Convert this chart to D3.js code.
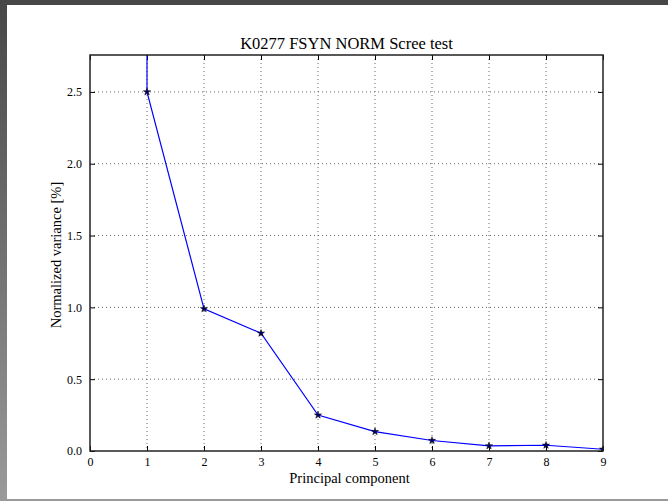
<!DOCTYPE html>
<html>
<head>
<meta charset="utf-8">
<script src="https://cdn.jsdelivr.net/npm/d3@7"></script>
<style>
  html, body { margin: 0; padding: 0; background: #fff; }
  svg { display: block; }
  text { font-family: "Liberation Serif", "DejaVu Serif", serif; fill: #000; }
</style>
</head>
<body>
<script>
// Chart data
const components = [1, 1, 2, 3, 4, 5, 6, 7, 8, 9];
const variance = [2.9, 2.5, 0.99, 0.82, 0.25, 0.135, 0.073, 0.036, 0.04, 0.012];
const xTicks = [0, 1, 2, 3, 4, 5, 6, 7, 8, 9];
const yTicks = [0.0, 0.5, 1.0, 1.5, 2.0, 2.5];
const titleText = 'K0277 FSYN NORM Scree test';
const xLabel = 'Principal component';
const yLabel = 'Normalized variance [%]';

const width = 668;
const height = 501;
const margin = {top: 55, right: 65, bottom: 50, left: 90};
const plotW = width - margin.left - margin.right;
const plotH = height - margin.top - margin.bottom;

const svg = d3.select('body').append('svg')
    .attr('width', width)
    .attr('height', height);

/* Window frame */
const defs = svg.append('defs');
const grad = defs.append('linearGradient')
    .attr('id', 'leftGrad')
    .attr('x1', 0).attr('y1', 0).attr('x2', 0).attr('y2', 1);
grad.append('stop').attr('offset', '0%').attr('stop-color', '#474747');
grad.append('stop').attr('offset', '100%').attr('stop-color', '#9a9a9a');

svg.append('rect').attr('x', 0).attr('y', 0)
    .attr('width', 7).attr('height', height).attr('fill', 'url(#leftGrad)');
svg.append('rect').attr('x', 0).attr('y', 0)
    .attr('width', width).attr('height', 5).attr('fill', '#474747');
svg.append('rect').attr('x', 0).attr('y', height - 2)
    .attr('width', width).attr('height', 2).attr('fill', '#9a9a9a');

defs.append('clipPath').attr('id', 'plotClip')
  .append('rect').attr('width', plotW).attr('height', plotH);

const x = d3.scaleLinear().domain([0, 9]).range([0, plotW]);
const y = d3.scaleLinear().domain([0, 2.757]).range([plotH, 0]);

const g = svg.append('g')
    .attr('transform', `translate(${margin.left},${margin.top})`);

/* Grid */
g.append('g').attr('class', 'grid')
  .selectAll('line.vx').data(xTicks.slice(1, -1)).join('line')
    .attr('x1', d => x(d)).attr('x2', d => x(d))
    .attr('y1', 0).attr('y2', plotH)
    .attr('stroke', '#666').attr('stroke-width', 1)
    .attr('stroke-dasharray', '1,3');
g.append('g').attr('class', 'grid')
  .selectAll('line.hy').data(yTicks.slice(1)).join('line')
    .attr('x1', 0).attr('x2', plotW)
    .attr('y1', d => y(d)).attr('y2', d => y(d))
    .attr('stroke', '#666').attr('stroke-width', 1)
    .attr('stroke-dasharray', '1,3');

/* Axes with inward ticks on all sides */
const axisStyle = sel => {
  sel.select('.domain').remove();
  sel.selectAll('text')
      .style('font-family', '"Liberation Serif", serif')
      .style('font-size', '12px')
      .attr('fill', '#000');
  sel.selectAll('.tick line').attr('stroke', '#000');
};

g.append('g').attr('transform', `translate(0,${plotH})`)
    .call(d3.axisBottom(x).tickValues(xTicks).tickFormat(d3.format('d'))
        .tickSizeInner(-5).tickPadding(6))
    .call(axisStyle);
g.append('g')
    .call(d3.axisTop(x).tickValues(xTicks).tickFormat('').tickSizeInner(-5))
    .call(axisStyle);
g.append('g')
    .call(d3.axisLeft(y).tickValues(yTicks).tickFormat(d3.format('.1f'))
        .tickSizeInner(-5).tickPadding(8))
    .call(axisStyle);
g.append('g').attr('transform', `translate(${plotW},0)`)
    .call(d3.axisRight(y).tickValues(yTicks).tickFormat('').tickSizeInner(-5))
    .call(axisStyle);

/* Data line and markers */
const pts = components.map((c, i) => ({c, v: variance[i]}));
const plot = g.append('g').attr('clip-path', 'url(#plotClip)');

plot.append('path')
    .datum(pts)
    .attr('fill', 'none')
    .attr('stroke', '#0000ff')
    .attr('stroke-width', 1.2)
    .attr('d', d3.line().x(d => x(d.c)).y(d => y(d.v)));

plot.selectAll('path.marker').data(pts).join('path')
    .attr('class', 'marker')
    .attr('transform', d => `translate(${x(d.c)},${y(d.v)})`)
    .attr('d', d3.symbol(d3.symbolStar, 16))
    .attr('fill', '#000066')
    .attr('stroke', '#000')
    .attr('stroke-width', 0.5);

/* Frame */
g.append('rect')
    .attr('width', plotW).attr('height', plotH)
    .attr('fill', 'none').attr('stroke', '#222').attr('stroke-width', 1.5);

/* Labels */
svg.append('text')
    .attr('x', margin.left + plotW / 2).attr('y', 49)
    .attr('text-anchor', 'middle')
    .style('font-size', '16.5px')
    .text(titleText);
svg.append('text')
    .attr('x', margin.left + plotW / 2 + 3).attr('y', 483)
    .attr('text-anchor', 'middle')
    .style('font-size', '14.5px')
    .text(xLabel);
svg.append('text')
    .attr('transform', `translate(61,${margin.top + plotH / 2 + 2}) rotate(-90)`)
    .attr('text-anchor', 'middle')
    .style('font-size', '14.5px')
    .text(yLabel);
</script>
</body>
</html>
